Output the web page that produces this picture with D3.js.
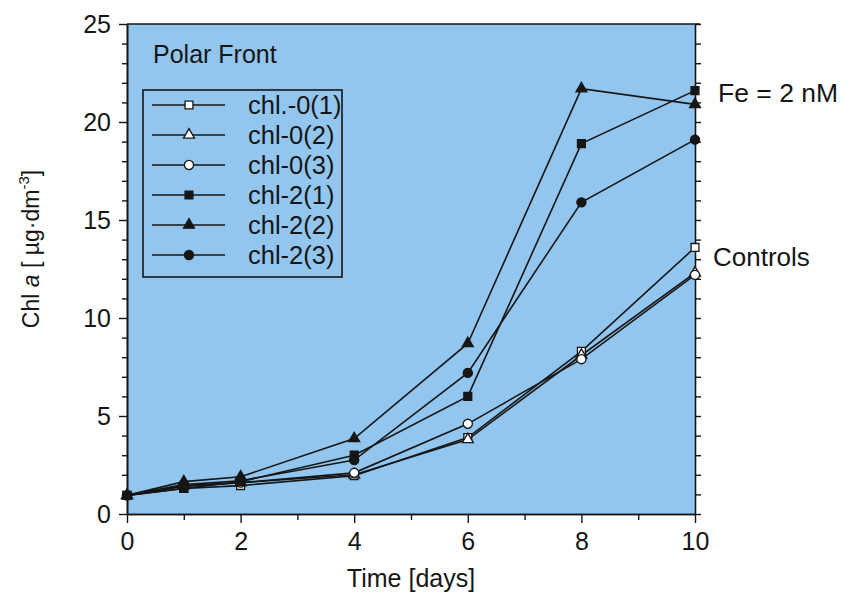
<!DOCTYPE html>
<html>
<head>
<meta charset="utf-8">
<script src="https://cdn.jsdelivr.net/npm/d3@7"></script>
<style>
  html, body { margin: 0; padding: 0; background: #ffffff; }
  svg { display: block; font-family: "Liberation Sans", Arial, Helvetica, sans-serif; }
</style>
</head>
<body>
<svg id="chart" width="845" height="596"></svg>
<script>
// Time axis (days) and chlorophyll a for each incubation bottle
const days = [0, 1, 2, 4, 6, 8, 10];
const chl0_1 = [0.95, 1.3, 1.45, 1.95, 3.9, 8.3, 13.6];
const chl0_2 = [0.95, 1.45, 1.6, 2.0, 3.8, 8.1, 12.3];
const chl0_3 = [0.95, 1.4, 1.6, 2.1, 4.6, 7.9, 12.2];
const chl2_1 = [0.95, 1.3, 1.65, 3.0, 6.0, 18.9, 21.6];
const chl2_2 = [0.95, 1.65, 1.9, 3.85, 8.7, 21.7, 20.9];
const chl2_3 = [0.95, 1.5, 1.7, 2.75, 7.2, 15.9, 19.1];

const seriesNames = ["chl.-0(1)", "chl-0(2)", "chl-0(3)", "chl-2(1)", "chl-2(2)", "chl-2(3)"];
const seriesValues = [chl0_1, chl0_2, chl0_3, chl2_1, chl2_2, chl2_3];
const seriesShapes = ["square", "triangle", "circle", "square", "triangle", "circle"];
const seriesFilled = [false, false, false, true, true, true];

const xMajorTicks = [0, 2, 4, 6, 8, 10];
const xMinorTicks = [1, 3, 5, 7, 9];
const yMajorTicks = [0, 5, 10, 15, 20, 25];
const yMinorTicks = d3.range(0, 26).filter(v => v % 5 !== 0);

const svg = d3.select("#chart");
const ink = "#161616";
const plotLeft = 127, plotRight = 695, plotTop = 24, plotBottom = 514;

const x = d3.scaleLinear().domain([0, 10]).range([plotLeft, plotRight]);
const y = d3.scaleLinear().domain([0, 25]).range([plotBottom, plotTop]);

// plot background
svg.append("rect")
  .attr("x", plotLeft).attr("y", plotTop)
  .attr("width", plotRight - plotLeft).attr("height", plotBottom - plotTop)
  .attr("fill", "#92c6ee");

function styleAxis(g) {
  g.select(".domain").attr("stroke", ink).attr("stroke-width", 1.6);
  g.selectAll(".tick line").attr("stroke", ink).attr("stroke-width", 1.4);
  g.selectAll(".tick text").attr("fill", ink).attr("font-size", 25)
    .attr("font-family", "'Liberation Sans', Arial, sans-serif");
}

// bottom axis
svg.append("g").attr("transform", `translate(0,${plotBottom})`)
  .call(d3.axisBottom(x).tickValues(xMinorTicks).tickSize(6).tickFormat("").tickSizeOuter(0))
  .call(styleAxis);
svg.append("g").attr("transform", `translate(0,${plotBottom})`)
  .call(d3.axisBottom(x).tickValues(xMajorTicks).tickSize(9).tickPadding(9).tickFormat(d3.format("d")).tickSizeOuter(0))
  .call(styleAxis);

// left axis
svg.append("g").attr("transform", `translate(${plotLeft},0)`)
  .call(d3.axisLeft(y).tickValues(yMinorTicks).tickSize(5).tickFormat("").tickSizeOuter(0))
  .call(styleAxis);
svg.append("g").attr("transform", `translate(${plotLeft},0)`)
  .call(d3.axisLeft(y).tickValues(yMajorTicks).tickSize(8).tickPadding(8).tickFormat(d3.format("d")).tickSizeOuter(0))
  .call(styleAxis);

// right axis, ticks only
svg.append("g").attr("transform", `translate(${plotRight},0)`)
  .call(d3.axisRight(y).tickValues(yMinorTicks.concat(yMajorTicks)).tickSize(6).tickFormat("").tickSizeOuter(0))
  .call(styleAxis);

// top frame line
svg.append("line")
  .attr("x1", plotLeft).attr("x2", plotRight + 5)
  .attr("y1", plotTop).attr("y2", plotTop)
  .attr("stroke", ink).attr("stroke-width", 1.6);

// axis titles
svg.append("text")
  .attr("x", x(5)).attr("y", 587)
  .attr("text-anchor", "middle").attr("font-size", 25).attr("fill", ink)
  .text("Time [days]");

const yTitle = svg.append("text")
  .attr("transform", "translate(39,249) rotate(-90)")
  .attr("text-anchor", "middle").attr("font-size", 23).attr("fill", ink);
yTitle.append("tspan").text("Chl ");
yTitle.append("tspan").attr("font-style", "italic").text("a");
yTitle.append("tspan").text(" [ µg·dm");
yTitle.append("tspan").attr("font-size", 15).attr("dy", -10).text("-3");
yTitle.append("tspan").attr("dy", 10).text("]");

// symbol generators
const symbolFor = {
  square: d3.symbol().type(d3.symbolSquare).size(62),
  triangle: d3.symbol().type(d3.symbolTriangle).size(52),
  circle: d3.symbol().type(d3.symbolCircle).size(66)
};

const line = d3.line().x((d, i) => x(days[i])).y(d => y(d));

// series lines then markers
seriesValues.forEach((vals) => {
  svg.append("path")
    .attr("d", line(vals))
    .attr("fill", "none").attr("stroke", ink).attr("stroke-width", 1.6);
});
seriesValues.forEach((vals, s) => {
  svg.append("g").selectAll("path")
    .data(vals)
    .join("path")
    .attr("transform", (d, i) => `translate(${x(days[i])},${y(d)})`)
    .attr("d", symbolFor[seriesShapes[s]]())
    .attr("fill", seriesFilled[s] ? ink : "#ffffff")
    .attr("stroke", ink).attr("stroke-width", 1.3);
});

// panel label
svg.append("text")
  .attr("x", 153).attr("y", 63)
  .attr("font-size", 25).attr("fill", ink)
  .text("Polar Front");

// legend
const legend = svg.append("g");
legend.append("rect")
  .attr("x", 143).attr("y", 90).attr("width", 199).attr("height", 187)
  .attr("fill", "none").attr("stroke", ink).attr("stroke-width", 1.6);
const rowY = d3.scaleLinear().domain([0, 5]).range([105, 255]);
seriesNames.forEach((name, s) => {
  const yy = rowY(s);
  legend.append("line")
    .attr("x1", 152).attr("x2", 225).attr("y1", yy).attr("y2", yy)
    .attr("stroke", ink).attr("stroke-width", 1.6);
  legend.append("path")
    .attr("transform", `translate(189,${yy})`)
    .attr("d", symbolFor[seriesShapes[s]]())
    .attr("fill", seriesFilled[s] ? ink : "#ffffff")
    .attr("stroke", ink).attr("stroke-width", 1.3);
  legend.append("text")
    .attr("x", 248).attr("y", yy + 9)
    .attr("font-size", 25.5).attr("fill", ink)
    .text(name);
});

// group annotations at day 10
svg.append("text")
  .attr("x", 718).attr("y", 102)
  .attr("font-size", 26.5).attr("fill", ink)
  .text("Fe = 2 nM");
svg.append("text")
  .attr("x", 713).attr("y", 266)
  .attr("font-size", 26).attr("fill", ink)
  .text("Controls");
</script>
</body>
</html>
